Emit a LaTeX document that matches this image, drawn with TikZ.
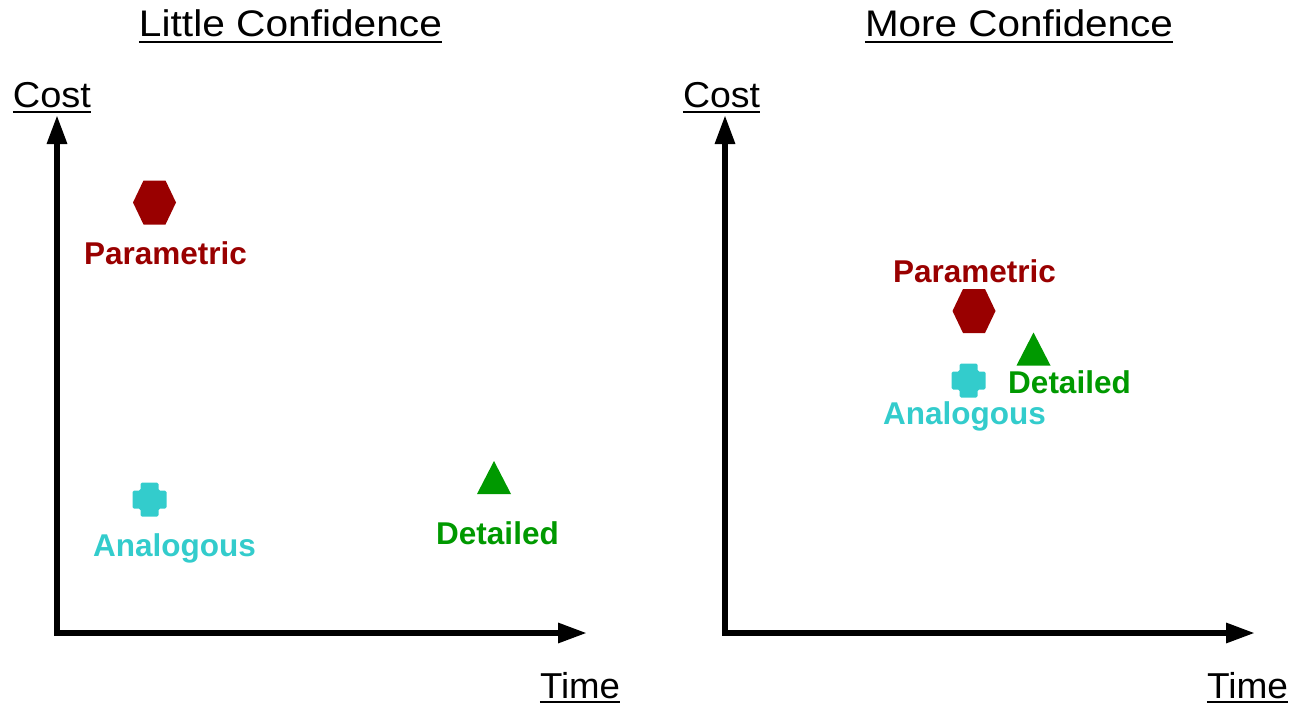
\documentclass[tikz,border=0pt]{standalone}
\usepackage{fontspec}
\setmainfont{Liberation Sans}
\usetikzlibrary{arrows.meta}
\definecolor{paramred}{HTML}{990000}
\definecolor{analogcyan}{HTML}{33CCCC}
\definecolor{detailgreen}{HTML}{009900}
\newcommand\headtext[3]{\resizebox{#1}{\height}{\fontsize{#2}{#2}\selectfont #3}}
\begin{document}
\begin{tikzpicture}[x=1pt,y=-1pt,
  axis/.style={line width=6pt,line join=miter,
    {Triangle[length=29pt,width=19pt]}-{Triangle[length=29pt,width=19pt]}},
  heading/.style={inner sep=0pt,anchor=base},
  uline/.style={line width=2.4pt},
  est/.style={inner sep=0pt,anchor=base,font=\fontsize{31.5}{34}\selectfont\bfseries},
  hexmark/.pic={\fill[paramred] (-21.5,0) -- (-11,-22) -- (11,-22) -- (21.5,0) -- (11,22) -- (-11,22) -- cycle;},
  crossmark/.pic={\fill[analogcyan,rounded corners=1.5pt]
    (-9,-17) -- (9,-17) -- (9,-9) -- (17,-9) -- (17,9) -- (9,9) -- (9,17)
    -- (-9,17) -- (-9,9) -- (-17,9) -- (-17,-9) -- (-9,-9) -- cycle;},
  trimark/.pic={\fill[detailgreen] (0,-16.5) -- (17,16.5) -- (-17,16.5) -- cycle;}
]
\useasboundingbox (0,0) rectangle (1292,704);

% ---------- left chart ----------
\node[heading] (titleL) at (290.5,36) {\headtext{303pt}{37}{Little Confidence}};
\draw[uline] ([yshift=-6pt]titleL.base west) -- ([yshift=-6pt]titleL.base east);

\coordinate (topL) at (57,115);
\coordinate (origL) at (57,633);
\coordinate (endL) at (587,633);
\draw[axis] (topL) -- (origL) -- (endL);

\node[heading] (costL) at (52,107) {\headtext{78pt}{36}{Cost}};
\draw[uline] ([yshift=-5pt]costL.base west) -- ([yshift=-5pt]costL.base east);
\node[heading] (timeL) at (580,698) {\headtext{80pt}{36}{Time}};
\draw[uline] ([yshift=-4pt]timeL.base west) -- ([yshift=-4pt]timeL.base east);

\coordinate (hexL) at (154.5,202.5);
\pic at (hexL) {hexmark};
\node[est,text=paramred] (parL) at (165.5,264) {Parametric};

\coordinate (crossL) at (149.5,499.5);
\pic at (crossL) {crossmark};
\node[est,text=analogcyan] (anaL) at (174.5,556) {Analogous};

\coordinate (triL) at (494,477.5);
\pic at (triL) {trimark};
\node[est,text=detailgreen] (detL) at (497.5,544) {Detailed};

% ---------- right chart ----------
\node[heading] (titleR) at (1019,36) {\headtext{308pt}{37}{More Confidence}};
\draw[uline] ([yshift=-6pt]titleR.base west) -- ([yshift=-6pt]titleR.base east);

\coordinate (topR) at (725,115);
\coordinate (origR) at (725,633);
\coordinate (endR) at (1255,633);
\draw[axis] (topR) -- (origR) -- (endR);

\node[heading] (costR) at (721.5,107) {\headtext{77pt}{36}{Cost}};
\draw[uline] ([yshift=-5pt]costR.base west) -- ([yshift=-5pt]costR.base east);
\node[heading] (timeR) at (1247.5,698) {\headtext{81pt}{36}{Time}};
\draw[uline] ([yshift=-4pt]timeR.base west) -- ([yshift=-4pt]timeR.base east);

\coordinate (hexR) at (974,311);
\pic at (hexR) {hexmark};
\node[est,text=paramred] (parR) at (974.5,282) {Parametric};

\coordinate (triR) at (1033.5,349);
\pic at (triR) {trimark};
\node[est,text=detailgreen] (detR) at (1069.5,393) {Detailed};

\coordinate (crossR) at (968.5,380.5);
\pic at (crossR) {crossmark};
\node[est,text=analogcyan] (anaR) at (964.5,424) {Analogous};
\end{tikzpicture}
\end{document}
